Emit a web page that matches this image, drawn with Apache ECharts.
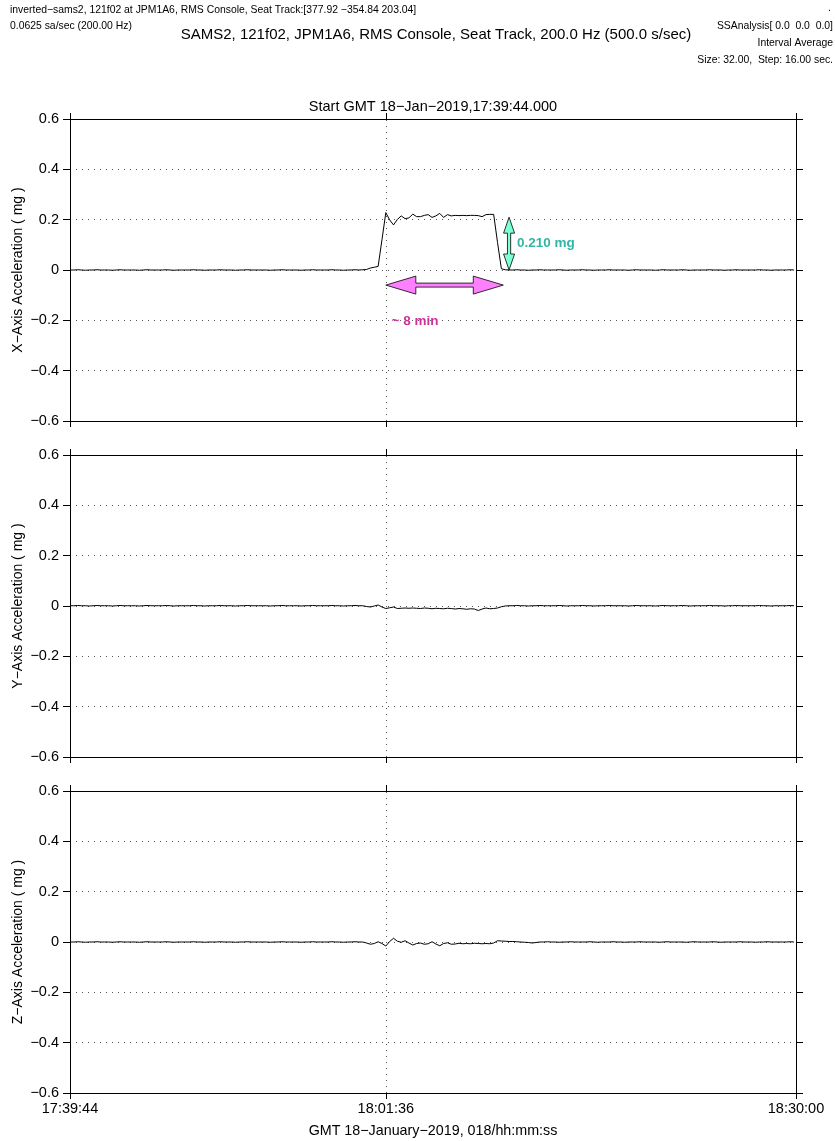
<!DOCTYPE html>
<html><head><meta charset="utf-8">
<script src="https://cdn.jsdelivr.net/npm/echarts@6/dist/echarts.min.js"></script>
<style>html,body{margin:0;padding:0;background:#fff}#c{width:835px;height:1141px}</style>
</head><body><div id="c"></div>
<script>
// ---- data ----
const stepSec = 16;                       // Step: 16.00 sec
const tickSeconds = [0, 1312, 3016];      // seconds after 17:39:44
const tickLabels = ['17:39:44', '18:01:36', '18:30:00'];
const markSecond = 1312;                  // dotted vertical grid line
const axisNames = ['X\u2212Axis Acceleration ( mg )', 'Y\u2212Axis Acceleration ( mg )', 'Z\u2212Axis Acceleration ( mg )'];
const xLabelName = 'GMT 18\u2212January\u22122019, 018/hh:mm:ss';

const xVals = [
 0.000,0.000,0.001,0.000,-0.001,0.000,0.000,0.001,0.000,0.000,
 0.000,-0.001,0.000,0.001,0.000,0.000,0.000,0.000,-0.001,0.000,
 0.001,0.000,0.000,0.000,0.000,0.001,0.000,-0.001,0.000,0.000,
 0.000,0.000,0.001,0.000,0.000,-0.001,0.000,0.000,0.000,0.001,
 0.000,0.000,0.000,-0.001,0.000,0.000,0.001,0.000,0.000,0.000,
 0.000,0.000,-0.001,0.000,0.000,0.001,0.000,0.000,0.000,0.000,
 -0.001,0.000,0.000,0.001,0.000,0.000,0.000,0.000,0.001,0.000,
 0.000,-0.001,0.000,0.000,0.001,0.000,0.001,
 0.002,0.008,0.011,0.014,0.120,0.228,0.199,0.179,0.201,0.215,
 0.204,0.207,0.222,0.212,0.212,0.217,0.220,0.209,0.215,0.225,
 0.209,0.220,0.215,0.217,0.216,0.217,0.216,0.217,0.217,0.216,
 0.212,0.220,0.221,0.221,0.110,0.005,0.001,
 0.000,0.000,0.001,0.000,0.000,-0.001,0.000,0.000,0.001,0.000,
 0.000,0.000,0.000,0.001,0.000,-0.001,0.000,0.000,0.000,0.001,
 0.000,0.000,-0.001,0.000,0.000,0.000,0.001,0.000,0.000,0.000,
 0.000,-0.001,0.000,0.001,0.000,0.000,0.000,0.000,-0.001,0.000,
 0.001,0.000,0.000,0.000,0.000,0.001,0.000,-0.001,0.000,0.000,
 0.000,0.000,0.001,0.000,0.000,0.000,-0.001,0.000,0.000,0.001,
 0.000,0.000,0.000,0.000,0.000,0.001,0.000,0.000,-0.001,0.000,
 0.000,0.000,0.000,0.001,0.000
];
const yVals = [
 0.001,0.001,0.002,0.001,0.001,0.000,0.001,0.002,0.001,0.001,
 0.001,0.000,0.001,0.002,0.001,0.001,0.001,0.001,0.000,0.001,
 0.002,0.001,0.001,0.001,0.001,0.002,0.001,0.000,0.001,0.001,
 0.001,0.001,0.002,0.001,0.001,0.000,0.001,0.001,0.001,0.002,
 0.001,0.001,0.001,0.000,0.001,0.001,0.002,0.001,0.001,0.001,
 0.001,0.001,0.000,0.001,0.001,0.002,0.001,0.001,0.001,0.001,
 0.000,0.001,0.001,0.002,0.001,0.001,0.001,0.001,0.002,0.001,
 0.001,0.000,0.001,0.001,0.002,0.001,0.001,
 -0.002,-0.004,0.000,0.004,-0.004,-0.010,-0.007,-0.004,-0.010,-0.009,
 -0.008,-0.009,-0.008,-0.009,-0.010,-0.008,-0.009,-0.011,-0.009,-0.010,
 -0.011,-0.009,-0.010,-0.012,-0.010,-0.011,-0.013,-0.011,-0.012,-0.018,
 -0.012,-0.008,-0.011,-0.010,-0.008,-0.003,0.000,
 0.001,0.001,0.002,0.001,0.001,0.000,0.001,0.001,0.002,0.001,
 0.001,0.001,0.001,0.002,0.001,0.000,0.001,0.001,0.001,0.002,
 0.001,0.001,0.000,0.001,0.001,0.001,0.002,0.001,0.001,0.001,
 0.001,0.000,0.001,0.002,0.001,0.001,0.001,0.001,0.000,0.001,
 0.002,0.001,0.001,0.001,0.001,0.002,0.001,0.000,0.001,0.001,
 0.001,0.001,0.002,0.001,0.001,0.001,0.000,0.001,0.001,0.002,
 0.001,0.001,0.001,0.001,0.001,0.002,0.001,0.001,0.000,0.001,
 0.001,0.001,0.001,0.002,0.001
];
const zVals = [
 0.000,0.000,0.001,0.000,-0.001,0.000,0.000,0.001,0.000,0.000,
 0.000,-0.001,0.000,0.001,0.000,0.000,0.000,0.000,-0.001,0.000,
 0.001,0.000,0.000,0.000,0.000,0.001,0.000,-0.001,0.000,0.000,
 0.000,0.000,0.001,0.000,0.000,-0.001,0.000,0.000,0.000,0.001,
 0.000,0.000,0.000,-0.001,0.000,0.000,0.001,0.000,0.000,0.000,
 0.000,0.000,-0.001,0.000,0.000,0.001,0.000,0.000,0.000,0.000,
 -0.001,0.000,0.000,0.001,0.000,0.000,0.000,0.000,0.001,0.000,
 0.000,-0.001,0.000,0.000,0.001,0.000,0.000,
 -0.004,-0.009,-0.006,0.001,-0.006,-0.016,0.002,0.015,0.003,-0.001,
 0.005,-0.004,-0.012,-0.006,-0.004,-0.009,-0.007,0.001,-0.008,-0.015,
 -0.006,-0.003,-0.009,-0.008,-0.005,-0.007,-0.006,-0.007,-0.005,-0.006,
 -0.007,-0.006,-0.007,-0.004,0.005,0.004,0.003,0.002,0.002,0.001,
 0.000,-0.001,-0.002,-0.004,-0.002,
 0.000,0.000,0.001,0.000,0.000,-0.001,0.000,0.000,0.001,0.000,
 0.000,0.000,0.000,0.001,0.000,-0.001,0.000,0.000,0.000,0.001,
 0.000,0.000,-0.001,0.000,0.000,0.000,0.001,0.000,0.000,0.000,
 0.000,-0.001,0.000,0.001,0.000,0.000,0.000,0.000,-0.001,0.000,
 0.001,0.000,0.000,0.000,0.000,0.001,0.000,-0.001,0.000,0.000,
 0.000,0.000,0.001,0.000,0.000,0.000,-0.001,0.000,0.000,0.001,
 0.000,0.000,0.000,0.000,0.000,0.001,0.000
];
const panels = [xVals, yVals, zVals];

// annotation anchors (data coordinates of panel 1)
const ampArrow = { x: 1824, y0: 0, y1: 0.210, text: '0.210 mg' };
const durArrow = { x0: 1312, x1: 1800, y: -0.06, text: '~ 8 min', tx: 1336, ty: -0.203 };

// ---- layout / style ----
const FONT = '"Liberation Sans", Arial, Helvetica, sans-serif';
const gridTops = [119, 455, 791];
const GL = 70, GW = 726, GH = 302;
const dotted = { type: [1, 5], color: '#555', width: 1 };

const chart = echarts.init(document.getElementById('c'), null, { renderer: 'canvas' });

const grids = gridTops.map(t => ({ left: GL, top: t, width: GW, height: GH, containLabel: false, outerBoundsMode: 'none' }));
const xAxes = [], yAxes = [], series = [];
const fmtY = v => (Math.abs(v) < 1e-9 ? '0' : v.toFixed(1)).replace('-', '\u2212');
const fmtX = v => { const i = tickSeconds.findIndex(t => Math.abs(t - v) < 1e-6); return i >= 0 ? tickLabels[i] : ''; };

for (let i = 0; i < 3; i++) {
  xAxes.push({
    gridIndex: i, type: 'value', min: 0, max: tickSeconds[2], position: 'bottom',
    axisLine: { show: true, onZero: false, lineStyle: { color: '#000', width: 1 } },
    axisTick: { show: true, customValues: tickSeconds, length: 6, inside: false, lineStyle: { color: '#000' } },
    axisLabel: { show: i === 2, customValues: tickSeconds, formatter: fmtX, color: '#000', fontSize: 14.5, fontFamily: FONT, margin: 8 },
    splitLine: { show: false },
    name: i === 2 ? xLabelName : '', nameLocation: 'middle', nameGap: 31, nameMoveOverlap: false,
    nameTextStyle: { color: '#000', fontSize: 14.3, fontFamily: FONT }
  });
  yAxes.push({
    gridIndex: i, type: 'value', min: -0.6, max: 0.6, interval: 0.2, position: 'left',
    axisLine: { show: true, onZero: false, lineStyle: { color: '#000', width: 1 } },
    axisTick: { show: true, length: 7, lineStyle: { color: '#000' } },
    axisLabel: { formatter: fmtY, color: '#000', fontSize: 14.5, fontFamily: FONT, margin: 11 },
    splitLine: { show: true, lineStyle: dotted },
    name: axisNames[i], nameLocation: 'middle', nameGap: 45, nameMoveOverlap: false,
    nameTextStyle: { color: '#000', fontSize: 14, fontFamily: FONT }
  });
}
for (let i = 0; i < 3; i++) {
  xAxes.push({
    gridIndex: i, type: 'value', min: 0, max: tickSeconds[2], position: 'top',
    axisLine: { show: true, onZero: false, lineStyle: { color: '#000', width: 1 } },
    axisTick: { show: true, customValues: tickSeconds, length: 6, lineStyle: { color: '#000' } },
    axisLabel: { show: false }, splitLine: { show: false }
  });
  yAxes.push({
    gridIndex: i, type: 'value', min: -0.6, max: 0.6, interval: 0.2, position: 'right',
    axisLine: { show: true, onZero: false, lineStyle: { color: '#000', width: 1 } },
    axisTick: { show: true, length: 7, lineStyle: { color: '#000' } },
    axisLabel: { show: false }, splitLine: { show: false }
  });
}
for (let i = 0; i < 3; i++) {
  series.push({
    type: 'line', xAxisIndex: i, yAxisIndex: i,
    data: panels[i].map((v, k) => [k * stepSec, v]),
    showSymbol: false, symbol: 'none', silent: true, animation: false,
    lineStyle: { color: '#000', width: 1 },
    markLine: { silent: true, symbol: 'none', label: { show: false }, animation: false,
      lineStyle: dotted, data: [{ xAxis: markSecond }] },
    z: 3
  });
}

const headerText = (id, x, y, text, size, align) => ({
  type: 'text', id, x, y, silent: true,
  style: { text, fill: '#000', font: size + 'px ' + FONT, textAlign: align, textVerticalAlign: 'middle' }
});
const headers = [
  headerText('h1', 10, 10, 'inverted\u2212sams2, 121f02 at JPM1A6, RMS Console, Seat Track:[377.92 \u2212354.84 203.04]', 10.4, 'left'),
  headerText('h2', 10, 26, '0.0625 sa/sec (200.00 Hz)', 10.4, 'left'),
  headerText('h3', 436, 35, 'SAMS2, 121f02, JPM1A6, RMS Console, Seat Track, 200.0 Hz (500.0 s/sec)', 15, 'center'),
  headerText('h4', 831, 8, '.', 10.4, 'right'),
  headerText('h5', 833, 26, 'SSAnalysis[ 0.0  0.0  0.0]', 10.4, 'right'),
  headerText('h6', 833, 43, 'Interval Average', 10.4, 'right'),
  headerText('h7', 833, 60, 'Size: 32.00,  Step: 16.00 sec.', 10.4, 'right'),
  headerText('h8', 433, 107, 'Start GMT 18\u2212Jan\u22122019,17:39:44.000', 14.5, 'center')
];

chart.setOption({
  animation: false,
  backgroundColor: '#fff',
  grid: grids, xAxis: xAxes, yAxis: yAxes, series,
  graphic: headers
});

// annotations, positioned through the panel-1 scales
const P = (x, y) => chart.convertToPixel({ gridIndex: 0 }, [x, y]);
function hArrow(x0, x1, yc, hl, hh, sh) {
  return [[x0, yc], [x0 + hl, yc - hh], [x0 + hl, yc - sh], [x1 - hl, yc - sh], [x1 - hl, yc - hh],
          [x1, yc], [x1 - hl, yc + hh], [x1 - hl, yc + sh], [x0 + hl, yc + sh], [x0 + hl, yc + hh]];
}
function vArrow(xc, y0, y1, hl, hw, sw) { // y0 top, y1 bottom
  return [[xc, y0], [xc + hw, y0 + hl], [xc + sw, y0 + hl], [xc + sw, y1 - hl], [xc + hw, y1 - hl],
          [xc, y1], [xc - hw, y1 - hl], [xc - sw, y1 - hl], [xc - sw, y0 + hl], [xc - hw, y0 + hl]];
}
const a0 = P(durArrow.x0, durArrow.y), a1 = P(durArrow.x1, durArrow.y);
const g0 = P(ampArrow.x, ampArrow.y1), g1 = P(ampArrow.x, ampArrow.y0);
const gm = P(ampArrow.x, (ampArrow.y0 + ampArrow.y1) / 2);
const dt = P(durArrow.tx, durArrow.ty);
chart.setOption({
  graphic: headers.concat([
    { type: 'polygon', id: 'durArrow', silent: true, z: 10,
      shape: { points: hArrow(a0[0], a1[0], a0[1], 30, 9, 2) },
      style: { fill: '#ff80ff', stroke: '#000', lineWidth: 0.8 } },
    { type: 'polygon', id: 'ampArrow', silent: true, z: 10,
      shape: { points: vArrow(g0[0], g0[1], g1[1], 16, 5.5, 1.6) },
      style: { fill: '#7fffd4', stroke: '#000', lineWidth: 0.8 } },
    { type: 'text', id: 'ampText', silent: true, z: 10, x: gm[0] + 8, y: gm[1],
      style: { text: ampArrow.text, fill: '#33b5a5', font: 'bold 13.5px ' + FONT, textAlign: 'left', textVerticalAlign: 'middle' } },
    { type: 'text', id: 'durText', silent: true, z: 10, x: dt[0], y: dt[1],
      style: { text: durArrow.text, fill: '#cc3399', font: 'bold 13.5px ' + FONT, textAlign: 'left', textVerticalAlign: 'middle' } }
  ])
});
</script>
</body></html>
